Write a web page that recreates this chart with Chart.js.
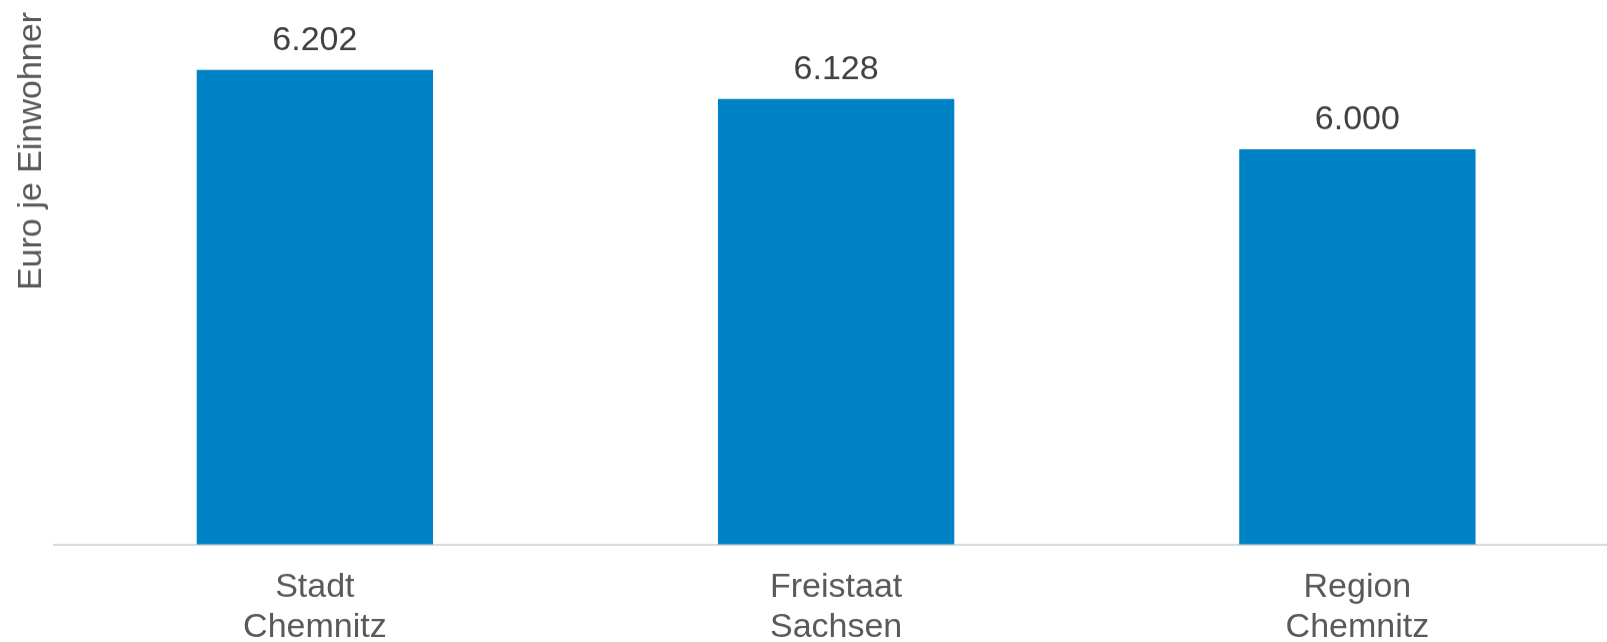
<!DOCTYPE html>
<html>
<head>
<meta charset="utf-8">
<script src="https://cdn.jsdelivr.net/npm/chart.js@4"></script>
<style>
    html, body { margin: 0; padding: 0; background: #fff; overflow: hidden; }
    #wrap { width: 1618px; height: 670.5px; position: relative; }
</style>
</head>
<body>
<div id="wrap"><canvas id="einnahmenChart"></canvas></div>
<script>
const categories = [['Stadt', 'Chemnitz'], ['Freistaat', 'Sachsen'], ['Region', 'Chemnitz']];
const values = [6202, 6128, 6000];
const axisTitle = 'Euro je Einwohner';

const fontFamily = '"Liberation Sans", Arial, sans-serif';

// 6202 -> "6.202"
function formatDe(v) {
    return String(v).replace(/\B(?=(\d{3})+(?!\d))/g, '.');
}

const valueLabels = {
    id: 'valueLabels',
    afterDatasetsDraw(chart) {
        const ctx = chart.ctx;
        const meta = chart.getDatasetMeta(0);
        ctx.save();
        ctx.font = '34px ' + fontFamily;
        ctx.fillStyle = '#404040';
        ctx.textAlign = 'center';
        ctx.textBaseline = 'alphabetic';
        meta.data.forEach((bar, i) => {
            ctx.fillText(formatDe(values[i]), bar.x, bar.y - 20);
        });
        ctx.restore();
    }
};

const ctx = document.getElementById('einnahmenChart').getContext('2d');
new Chart(ctx, {
    type: 'bar',
    data: {
        labels: categories,
        datasets: [{
            data: values,
            backgroundColor: '#0082C6',
            borderWidth: 0,
            categoryPercentage: 1,
            barPercentage: 0.4534
        }]
    },
    options: {
        responsive: true,
        maintainAspectRatio: false,
        animation: false,
        layout: { padding: { left: 11.45, top: 12, right: 0, bottom: 0 } },
        plugins: {
            legend: { display: false },
            tooltip: { enabled: false }
        },
        scales: {
            x: {
                grid: { display: false, drawTicks: false },
                border: { display: true, color: '#d9d9d9', width: 2 },
                ticks: {
                    padding: 23.5,
                    color: '#595959',
                    font: { family: fontFamily, size: 34, lineHeight: 40 / 34 },
                    maxRotation: 0
                }
            },
            y: {
                min: 4995,
                max: 6349,
                grid: { display: false, drawTicks: false },
                border: { display: false },
                ticks: { display: false },
                title: {
                    display: true,
                    text: axisTitle,
                    align: 'end',
                    color: '#595959',
                    font: { family: fontFamily, size: 34, lineHeight: 1.2 },
                    padding: { top: 0, bottom: 2 }
                }
            }
        }
    },
    plugins: [valueLabels]
});
</script>
</body>
</html>
